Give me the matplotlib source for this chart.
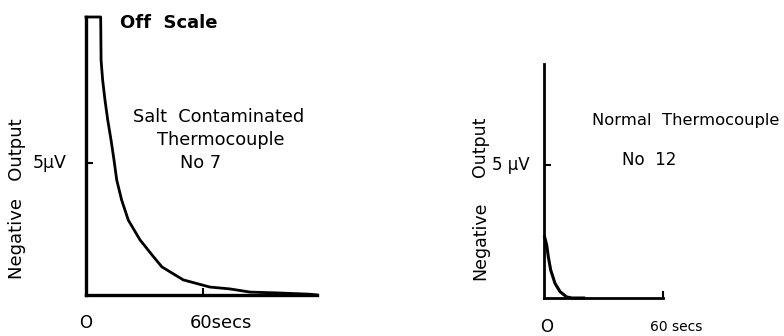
import numpy as np
import matplotlib.pyplot as plt

plt.rcParams['font.family'] = ['DejaVu Sans']

# salt contaminated thermocouple No 7 (trace runs off scale at the start)
t_salt = [0, 7.5, 7.7, 8.5, 9.7, 11.1, 12.8, 14.3, 15.7, 18.2, 21.6, 27.6,
          34.2, 38.8, 49.7, 63.3, 73.5, 83.8, 97.4, 114.4, 118]
v_salt = [10.5, 10.5, 8.87, 8.12, 7.36, 6.61, 5.85, 5.10, 4.34, 3.59, 2.83, 2.08,
          1.47, 1.06, 0.57, 0.30, 0.23, 0.11, 0.08, 0.03, 0.0]

# normal thermocouple No 12
t_norm = [0.3, 1.36, 2.17, 3.38, 5.55, 8.07, 11.4, 14, 20]
v_norm = [2.3, 1.99, 1.55, 1.05, 0.55, 0.24, 0.04, 0.0, 0.0]

fig = plt.figure(figsize=(7.84, 3.36), dpi=100)

ax1 = fig.add_axes([86/784, 41/336, 231/784, 278/336])
ax2 = fig.add_axes([544/784, 38/336, 119/784, 234/336])


def style(ax, xmax, ymax, lw):
    ax.set_xlim(0, xmax)
    ax.set_ylim(0, ymax)
    for s in ['top', 'right']:
        ax.spines[s].set_visible(False)
    for s in ['left', 'bottom']:
        ax.spines[s].set_linewidth(lw)
        ax.spines[s].set_capstyle('projecting')
    ax.set_xticks([60])
    ax.set_yticks([5])
    ax.tick_params(direction='in', length=5, width=1.5,
                   labelbottom=False, labelleft=False)


style(ax1, 118, 10.5, 2.4)
style(ax2, 60, 8.8, 2.0)

ax1.plot(t_salt, v_salt, color='black', lw=2.0, clip_on=False,
         solid_joinstyle='round')
ax2.plot(t_norm, v_norm, color='black', lw=2.2, clip_on=False,
         solid_joinstyle='round')

kw = dict(color='black', clip_on=False)
ax1.text(17.4, 10.27, 'Off  Scale', fontsize=13, fontweight='bold', va='center', **kw)
ax1.text(24.0, 6.72, 'Salt  Contaminated', fontsize=12.8, va='center', **kw)
ax1.text(36.3, 5.85, 'Thermocouple', fontsize=12.8, va='center', **kw)
ax1.text(48.0, 4.98, 'No 7', fontsize=12.8, va='center', **kw)
ax1.text(-9.7, 4.98, '5\u00b5V', fontsize=12.5, ha='right', va='center', **kw)
ax1.text(-35.2, 3.63, 'Negative   Output', fontsize=13, rotation=90,
         ha='center', va='center', **kw)
ax1.text(0, -1.06, 'O', fontsize=12, ha='center', va='center', **kw)
ax1.text(53.1, -1.06, '60secs', fontsize=13, va='center', **kw)

ax2.text(24.2, 6.69, 'Normal  Thermocouple', fontsize=11.8, va='center', **kw)
ax2.text(39.3, 5.19, 'No  12', fontsize=12, va='center', **kw)
ax2.text(-7.1, 5.0, '5 \u00b5V', fontsize=12, ha='right', va='center', **kw)
ax2.text(-32.3, 5.68, 'Output', fontsize=12.5, rotation=90,
         ha='center', va='center', **kw)
ax2.text(-32.3, 2.14, 'Negative', fontsize=12.5, rotation=90,
         ha='center', va='center', **kw)
ax2.text(1.5, -1.09, 'O', fontsize=12, ha='center', va='center', **kw)
ax2.text(53.5, -1.09, '60 secs', fontsize=10, va='center', **kw)

fig.savefig('out.png', dpi=100)
